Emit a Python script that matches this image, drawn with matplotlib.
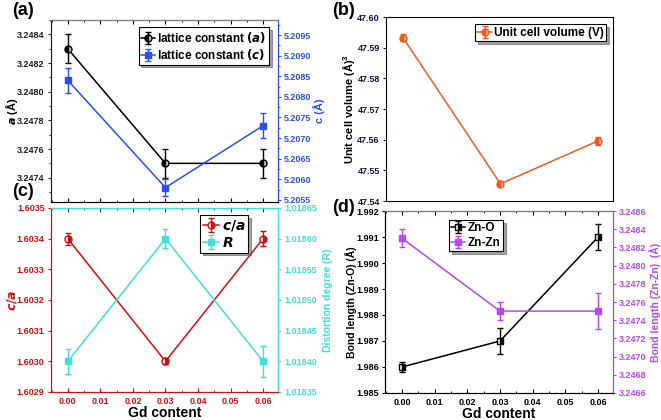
import matplotlib.pyplot as plt
from matplotlib.ticker import MultipleLocator, FormatStrFormatter

plt.rcParams['font.family'] = ['Liberation Sans', 'DejaVu Sans']
plt.rcParams['font.weight'] = 'bold'
plt.rcParams['mathtext.default'] = 'regular'

gd = [0.00, 0.03, 0.06]

# (a) lattice constants
lat_a = [3.2483, 3.2475, 3.2475]
lat_a_err = [0.0001, 0.0001, 0.0001]
lat_c = [5.2084, 5.2058, 5.2073]
lat_c_err = [0.0003, 0.0002, 0.0003]

# (b) unit cell volume
vol = [47.5933, 47.5456, 47.5596]
vol_err = [0.0012, 0.0008, 0.0013]

# (c) c/a and distortion degree
ca = [1.6034, 1.6030, 1.6034]
ca_err = [0.00002, 0.00001, 0.000025]
R = [1.01840, 1.01860, 1.01840]
R_err = [0.00002, 0.000015, 0.000025]

# (d) bond lengths
zno = [1.9860, 1.9870, 1.9910]
zno_err = [0.0002, 0.0005, 0.0005]
znzn = [3.2483, 3.2475, 3.2475]
znzn_err = [0.0001, 0.0001, 0.0002]

BLUE = '#2a50f0'
ORANGE = '#f05a22'
RED = '#d01010'
CYAN = '#40e0d8'
PURPLE = '#b648f0'
NAVY = '#101050'

fig = plt.figure(figsize=(6.61, 4.2), dpi=100)

tick_fs = 6.5
lab_fs = 8


def style_x(ax, color='black', labels=True):
    ax.set_xlim(-0.0052, 0.0646)
    ax.xaxis.set_major_locator(MultipleLocator(0.01))
    ax.xaxis.set_minor_locator(MultipleLocator(0.005))
    ax.xaxis.set_major_formatter(FormatStrFormatter('%.2f'))
    ax.tick_params(axis='x', which='both', direction='in', top=True,
                   labelsize=tick_fs, colors=color, labelbottom=labels)
    ax.tick_params(axis='x', which='major', length=3)
    ax.tick_params(axis='x', which='minor', length=1.5)
    if labels:
        ax.set_xlabel('Gd content', fontsize=10, fontweight='bold', labelpad=0)


def style_y(ax, color, side='left'):
    ax.tick_params(axis='y', which='major', direction='out', length=2.5,
                   labelsize=tick_fs, colors=color, pad=2)
    ax.tick_params(axis='y', which='minor', direction='out', length=1.5,
                   colors=color)
    ax.spines[side].set_color(color)


def add_legend(ax, handles, loc, anchor, fs=8.5):
    leg = ax.legend(handles=handles, loc=loc, bbox_to_anchor=anchor,
                    fontsize=fs, frameon=True, fancybox=False, shadow=True,
                    edgecolor='black', handlelength=1.2, handletextpad=0.2,
                    borderpad=0.2, labelspacing=0.2, borderaxespad=0)
    leg.get_frame().set_linewidth(0.8)
    for t in leg.get_texts():
        t.set_fontweight('bold')
    return leg


ekw = dict(capsize=2.5, elinewidth=1, capthick=1, lw=1.1, ms=5)

# ---------------- (a) ----------------
axa = fig.add_axes([0.077, 0.519, 0.3436, 0.433])
h1 = axa.errorbar(gd, lat_a, yerr=lat_a_err, color='black', marker='o',
                  fillstyle='left', markerfacecoloralt='#cccccc',
                  mec='black', label='lattice constant $\\mathit{(a)}$', **ekw)
axa.set_ylim(3.24723, 3.2485)
axa.yaxis.set_major_locator(MultipleLocator(0.0002))
axa.yaxis.set_minor_locator(MultipleLocator(0.0001))
axa.yaxis.set_major_formatter(FormatStrFormatter('%.4f'))
style_x(axa, labels=False)
style_y(axa, '#202020')
axa.set_ylabel('$\\mathit{a}$ (Å)', fontsize=lab_fs, fontweight='bold')
axa.yaxis.set_label_coords(-0.137, 0.5)
axa2 = axa.twinx()
h2 = axa2.errorbar(gd, lat_c, yerr=lat_c_err, color=BLUE, marker='s',
                   mec=BLUE, label='lattice constant $\\mathit{(c)}$', **ekw)
axa2.set_ylim(5.20545, 5.20986)
axa2.yaxis.set_major_locator(MultipleLocator(0.0005))
axa2.yaxis.set_minor_locator(MultipleLocator(0.00025))
axa2.yaxis.set_major_formatter(FormatStrFormatter('%.4f'))
style_y(axa2, BLUE, 'right')
axa2.spines['left'].set_color('#202020')
axa2.spines['top'].set_color('#808080')
axa2.set_ylabel('c (Å)', fontsize=lab_fs, fontweight='bold', color=BLUE)
axa2.yaxis.set_label_coords(1.155, 0.5)
add_legend(axa2, [h1, h2], 'upper right', (0.96, 0.96))

# ---------------- (b) ----------------
axb = fig.add_axes([0.584, 0.5214, 0.3434, 0.4381])
hb = axb.errorbar(gd, vol, yerr=vol_err, color=ORANGE, marker='o',
                  fillstyle='left', markerfacecoloralt='#ffb090',
                  mec=ORANGE, label='Unit cell volume (V)', **ekw)
axb.set_ylim(47.54, 47.60)
axb.yaxis.set_major_locator(MultipleLocator(0.01))
axb.yaxis.set_major_formatter(FormatStrFormatter('%.2f'))
style_x(axb, labels=False)
axb.tick_params(axis='x', which='both', length=0)
style_y(axb, NAVY)
axb.spines['left'].set_color('black')
axb.set_ylabel('Unit cell volume (Å)$^3$', fontsize=lab_fs, fontweight='bold')
axb.yaxis.set_label_coords(-0.13, 0.5)
add_legend(axb, [hb], 'upper right', (0.97, 0.96))

# ---------------- (c) ----------------
axc = fig.add_axes([0.077, 0.0667, 0.3436, 0.4381])
hc1 = axc.errorbar(gd, ca, yerr=ca_err, color=RED, marker='o',
                   fillstyle='right', markerfacecoloralt='white',
                   mec=RED, label='$\\mathit{c/a}$', **ekw)
axc.set_ylim(1.6029, 1.6035)
axc.yaxis.set_major_locator(MultipleLocator(0.0001))
axc.yaxis.set_major_formatter(FormatStrFormatter('%.4f'))
style_x(axc, color=RED)
axc.xaxis.label.set_color('black')
style_y(axc, RED)
axc.spines['bottom'].set_color(RED)
axc.set_ylabel('$\\mathit{c/a}$', fontsize=lab_fs + 1, fontweight='bold', color=RED)
axc.yaxis.set_label_coords(-0.14, 0.5)
axc2 = axc.twinx()
hc2 = axc2.errorbar(gd, R, yerr=R_err, color=CYAN, marker='s', mec=CYAN,
                    label='$\\mathit{R}$', **ekw)
axc2.set_ylim(1.01835, 1.01865)
axc2.yaxis.set_major_locator(MultipleLocator(0.00005))
axc2.yaxis.set_major_formatter(FormatStrFormatter('%.5f'))
style_y(axc2, CYAN, 'right')
axc2.spines['left'].set_color(RED)
axc2.spines['bottom'].set_color(RED)
axc2.spines['top'].set_color(CYAN)
axc2.set_ylabel('Distortion degree (R)', fontsize=lab_fs - 0.5, fontweight='bold',
                color=CYAN)
axc2.yaxis.set_label_coords(1.198, 0.5)
add_legend(axc2, [hc1, hc2], 'upper right', (0.87, 0.96), fs=10)

# ---------------- (d) ----------------
axd = fig.add_axes([0.5825, 0.0643, 0.345, 0.4333])
hd1 = axd.errorbar(gd, zno, yerr=zno_err, color='black', marker='s',
                   fillstyle='right', markerfacecoloralt='white',
                   mec='black', label='Zn-O', **ekw)
axd.set_ylim(1.985, 1.992)
axd.yaxis.set_major_locator(MultipleLocator(0.001))
axd.yaxis.set_major_formatter(FormatStrFormatter('%.3f'))
style_x(axd)
style_y(axd, 'black')
axd.set_ylabel('Bond length (Zn-O) (Å)', fontsize=lab_fs - 0.5, fontweight='bold')
axd.yaxis.set_label_coords(-0.123, 0.5)
axd2 = axd.twinx()
hd2 = axd2.errorbar(gd, znzn, yerr=znzn_err, color=PURPLE, marker='s',
                    mec=PURPLE, label='Zn-Zn', **ekw)
axd2.set_ylim(3.2466, 3.2486)
axd2.yaxis.set_major_locator(MultipleLocator(0.0002))
axd2.yaxis.set_major_formatter(FormatStrFormatter('%.4f'))
style_y(axd2, PURPLE, 'right')
axd2.spines['top'].set_color(PURPLE)
axd2.set_ylabel('Bond length (Zn-Zn)  (Å)', fontsize=lab_fs - 0.5, fontweight='bold',
                color=PURPLE)
axd2.yaxis.set_label_coords(1.16, 0.5)
add_legend(axd2, [hd1, hd2], 'upper left', (0.28, 0.95))

# panel labels
for x, y, s in [(0.018, 0.995, '(a)'), (0.503, 0.995, '(b)'),
                (0.018, 0.565, '(c)'), (0.503, 0.527, '(d)')]:
    fig.text(x, y, s, fontsize=13, fontweight='bold', va='top')

fig.savefig('out.png', dpi=100)
